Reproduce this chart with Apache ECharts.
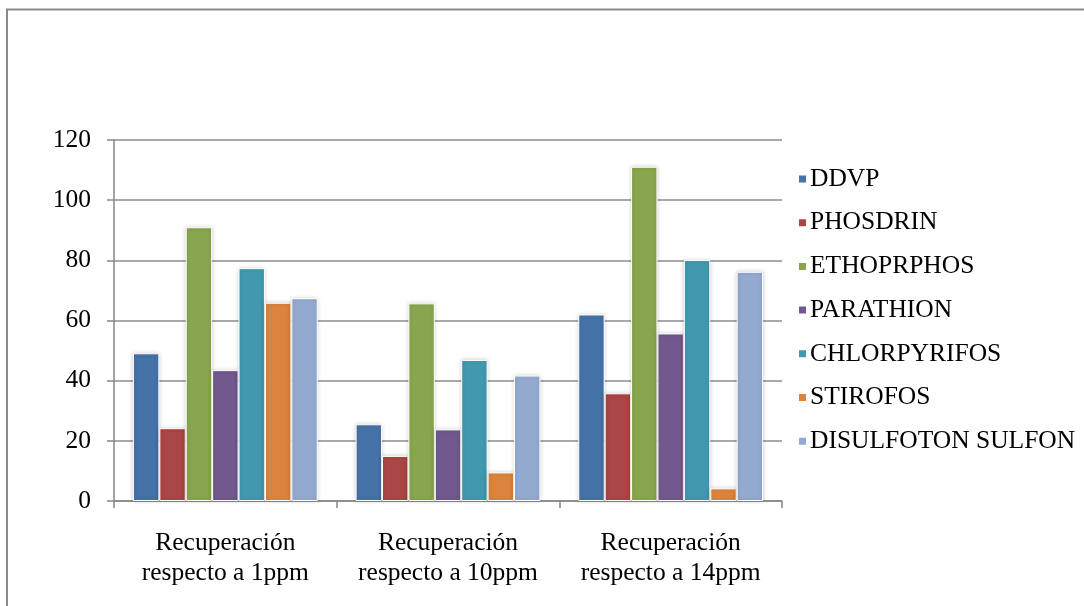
<!DOCTYPE html>
<html>
<head>
<meta charset="utf-8">
<script src="https://cdn.jsdelivr.net/npm/echarts@6/dist/echarts.min.js"></script>
<style>
  html, body { margin: 0; padding: 0; background: #fff; }
  #chart { width: 1084px; height: 606px; }
</style>
</head>
<body>
<div id="chart"></div>
<script>
// Recovery (%) of each pesticide at three spiking levels
const categories = [
  'Recuperación\nrespecto a 1ppm',
  'Recuperación\nrespecto a 10ppm',
  'Recuperación\nrespecto a 14ppm'
];
const seriesNames = ['DDVP', 'PHOSDRIN', 'ETHOPRPHOS', 'PARATHION', 'CHLORPYRIFOS', 'STIROFOS', 'DISULFOTON SULFON'];
const ddvp        = [49.1, 25.5, 62.0];
const phosdrin    = [24.2, 15.0, 35.8];
const ethoprphos  = [91.0, 65.7, 111.1];
const parathion   = [43.5, 23.8, 55.7];
const chlorpyrifos = [77.4, 46.9, 80.1];
const stirofos    = [65.9, 9.5, 4.2];
const disulfoton  = [67.4, 41.7, 76.2];
const yTicks = { min: 0, max: 120, interval: 20 };

const seriesValues = [ddvp, phosdrin, ethoprphos, parathion, chlorpyrifos, stirofos, disulfoton];
const colors = ['#4572A7', '#AA4643', '#89A54E', '#71588F', '#4198AF', '#DB843D', '#93A9CF'];
const serif = '"Liberation Serif", "DejaVu Serif", serif';
const fontSize = 25.5;

const chart = echarts.init(document.getElementById('chart'), null, { renderer: 'canvas' });

chart.setOption({
  animation: false,
  backgroundColor: '#fff',
  color: colors,
  textStyle: { fontFamily: serif, color: '#000' },
  graphic: [{
    type: 'rect',
    z: -10,
    shape: { x: 7, y: 9.5, width: 1200, height: 800 },
    style: { fill: 'none', stroke: '#8a8a8a', lineWidth: 2 }
  }],
  grid: { left: 114, right: 302, top: 140, bottom: 105, containLabel: false },
  legend: {
    orient: 'vertical',
    left: 792,
    top: 161,
    itemWidth: 9,
    itemHeight: 9,
    itemGap: 17.7,
    icon: 'rect',
    textStyle: { fontFamily: serif, fontSize: fontSize, color: '#000', lineHeight: 20, padding: [0, 0, 0, -2] },
    data: seriesNames
  },
  xAxis: {
    type: 'category',
    data: categories,
    axisLine: { lineStyle: { color: '#868686', width: 1.5 } },
    axisTick: { show: true, length: 7, lineStyle: { color: '#868686', width: 1.5 } },
    axisLabel: {
      interval: 0,
      hideOverlap: false,
      fontFamily: serif, fontSize: fontSize, color: '#000', lineHeight: 30, margin: 27,
      align: 'center'
    },
    splitLine: { show: false }
  },
  yAxis: {
    type: 'value',
    min: yTicks.min,
    max: yTicks.max,
    interval: yTicks.interval,
    axisLine: { show: true, lineStyle: { color: '#868686', width: 1.5 } },
    axisTick: { show: true, length: 7, lineStyle: { color: '#868686', width: 1.5 } },
    axisLabel: { fontFamily: serif, fontSize: fontSize, color: '#000', margin: 23 },
    splitLine: { show: true, lineStyle: { color: '#8c8c8c', width: 1.5 } }
  },
  series: seriesNames.map((name, i) => ({
    name: name,
    type: 'bar',
    data: seriesValues[i],
    barGap: '0%',
    barCategoryGap: '17%',
    itemStyle: {
      color: colors[i],
      borderColor: '#ffffff',
      borderWidth: 1,
      shadowBlur: 4,
      shadowColor: 'rgba(0,0,0,0.18)'
    }
  }))
});
</script>
</body>
</html>
